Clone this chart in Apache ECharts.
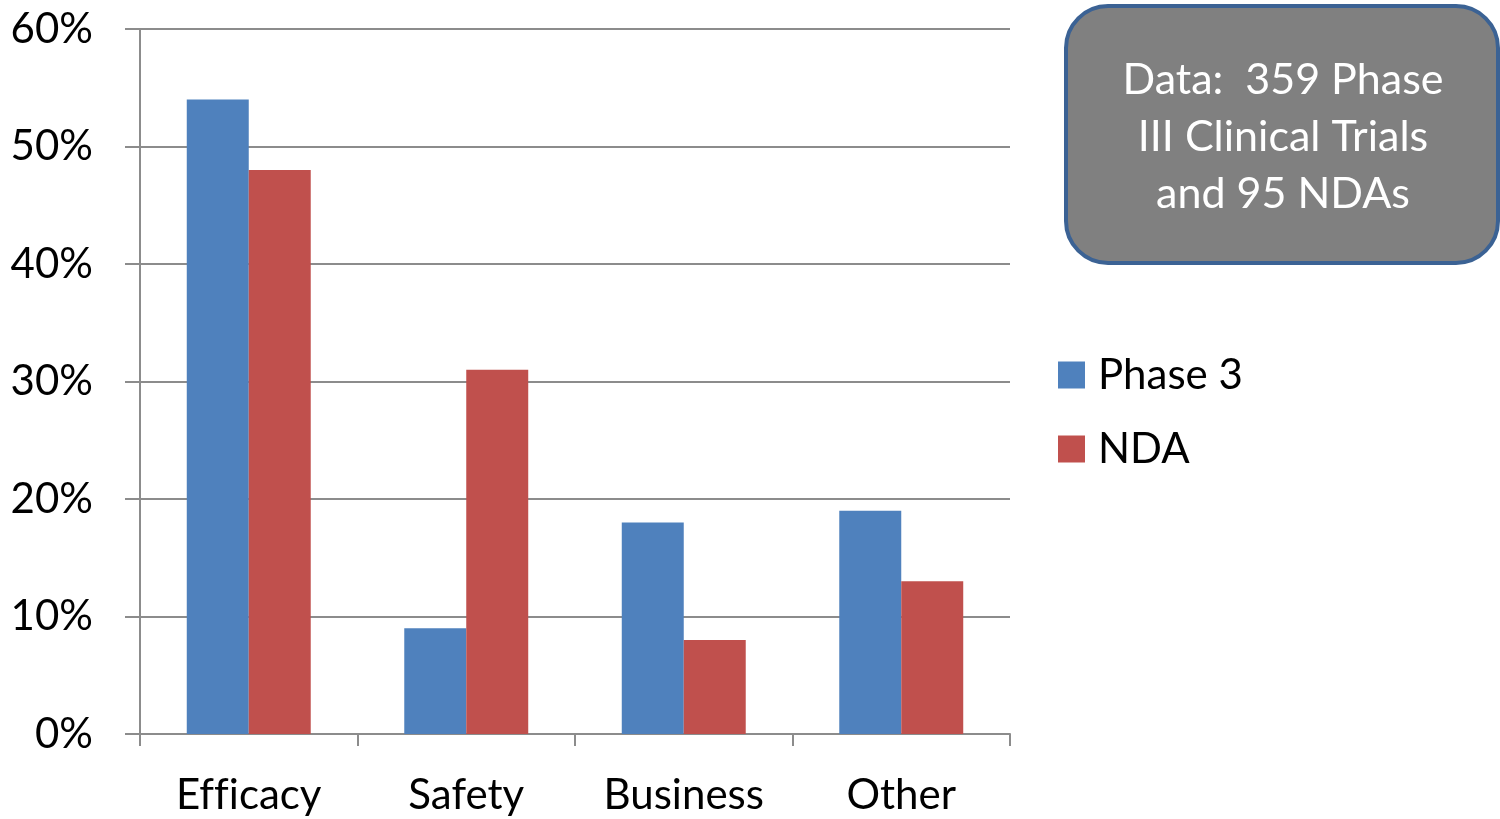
<!DOCTYPE html>
<html>
<head>
<meta charset="utf-8">
<script src="https://cdn.jsdelivr.net/npm/echarts@6/dist/echarts.min.js"></script>
<style>
  html, body { margin: 0; padding: 0; background: #ffffff; }
  #chart { width: 1500px; height: 819px; }
</style>
</head>
<body>
<div id="chart"></div>
<script>
// Reasons for failure, share of trials / NDAs (%)
const categories = ['Efficacy', 'Safety', 'Business', 'Other'];
const phase3 = [54, 9, 18, 19];
const nda = [48, 31, 8, 13];
const seriesNames = ['Phase 3', 'NDA'];
const noteLines = ['Data:  359 Phase', 'III Clinical Trials', 'and 95 NDAs'];

const FONT = 'Lato';
const gridColor = '#8c8c8c';

// keep "ff"/"fi" as separate letters (no ligatures)
const noLigature = (s) => s.replace(/f(?=[fil])/g, 'f\u200C');

const chart = echarts.init(document.getElementById('chart'));
chart.setOption({
  animation: false,
  backgroundColor: '#ffffff',
  textStyle: { fontFamily: FONT },
  grid: { left: 140, right: 490, top: 29, bottom: 85, containLabel: false },
  legend: {
    orient: 'vertical',
    left: 1053,
    top: 349,
    itemWidth: 27,
    itemHeight: 27,
    itemGap: 32,
    icon: 'rect',
    textStyle: { fontFamily: FONT, fontSize: 42, color: '#000000', padding: [0, 0, 0, 8] },
    data: seriesNames
  },
  xAxis: {
    type: 'category',
    data: categories,
    axisLine: { show: true, lineStyle: { color: gridColor, width: 2 } },
    axisTick: { show: true, length: 12, lineStyle: { color: gridColor, width: 2 } },
    axisLabel: { fontFamily: FONT, fontSize: 42, color: '#000000', margin: 40, formatter: noLigature },
    splitLine: { show: false }
  },
  yAxis: {
    type: 'value',
    min: 0,
    max: 60,
    interval: 10,
    axisLine: { show: true, lineStyle: { color: gridColor, width: 2 } },
    axisTick: { show: true, length: 15, lineStyle: { color: gridColor, width: 2 } },
    axisLabel: { fontFamily: FONT, fontSize: 42, color: '#000000', margin: 47, formatter: '{value}%' },
    splitLine: { show: true, lineStyle: { color: gridColor, width: 2 } }
  },
  series: [
    {
      name: seriesNames[0],
      type: 'bar',
      data: phase3,
      barGap: '0%',
      barCategoryGap: '43%',
      itemStyle: { color: '#4f81bd' }
    },
    {
      name: seriesNames[1],
      type: 'bar',
      data: nda,
      barGap: '0%',
      barCategoryGap: '43%',
      itemStyle: { color: '#c0504d' }
    }
  ],
  graphic: [
    {
      type: 'rect',
      x: 1066,
      y: 6,
      shape: { x: 0, y: 0, width: 432, height: 257, r: 42 },
      style: { fill: '#808080', stroke: '#3b6294', lineWidth: 4 },
      z: 10
    },
    {
      type: 'text',
      x: 1283,
      y: 137,
      z: 11,
      style: {
        text: noteLines.join('\n'),
        align: 'center',
        verticalAlign: 'middle',
        fill: '#ffffff',
        fontFamily: FONT,
        fontSize: 43,
        lineHeight: 57
      }
    }
  ]
});
</script>
</body>
</html>
